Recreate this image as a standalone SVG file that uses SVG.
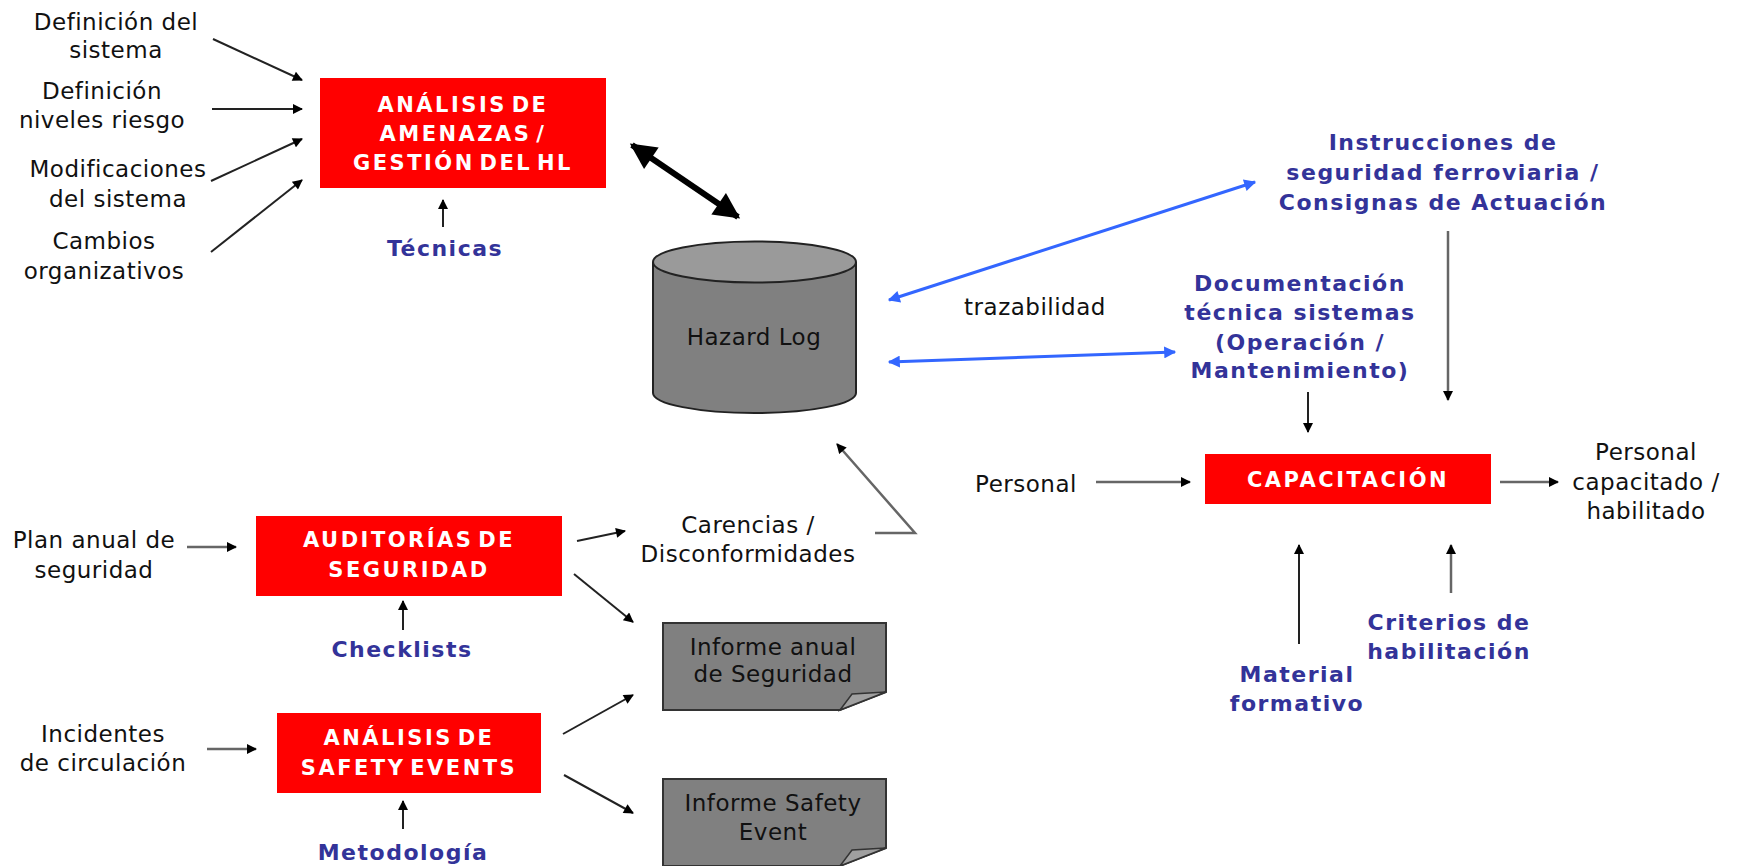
<svg xmlns="http://www.w3.org/2000/svg" width="1739" height="866" viewBox="0 0 1739 866">
  <style>
    text { font-family: "DejaVu Sans", Verdana, sans-serif; text-anchor: middle; dominant-baseline: central; }
    .t { font-size: 23px; fill: #111; letter-spacing: 0.5px; }
    .w { font-size: 21px; font-weight: bold; fill: #fff; letter-spacing: 2.5px; word-spacing: -5px; }
    .b { font-size: 22px; font-weight: bold; fill: #333399; letter-spacing: 1.5px; }
    .box { fill: #ff0000; }
    .doc { fill: #808080; stroke: #333; stroke-width: 2; }
    .flap { fill: #a0a0a0; stroke: #333; stroke-width: 1.5; }
    .ln { fill: none; stroke: #222; stroke-width: 2; marker-end: url(#ah); }
    .lg { fill: none; stroke: #666; stroke-width: 2.5; marker-end: url(#ah); }
    .blue { fill: none; stroke: #3366ff; stroke-width: 3; marker-start: url(#bh); marker-end: url(#bh); }
    .thick { fill: none; stroke: #000; stroke-width: 6; marker-start: url(#th); marker-end: url(#th); }
  </style>
  <defs>
    <marker id="ah" viewBox="0 0 10 10" refX="9" refY="5" markerWidth="12" markerHeight="10" markerUnits="userSpaceOnUse" orient="auto">
      <path d="M0,0 L10,5 L0,10 z" fill="#000"/>
    </marker>
    <marker id="bh" viewBox="0 0 10 10" refX="9" refY="5" markerWidth="16" markerHeight="12" markerUnits="userSpaceOnUse" orient="auto-start-reverse">
      <path d="M0,0 L10,5 L0,10 z" fill="#3366ff"/>
    </marker>
    <marker id="th" viewBox="0 0 10 10" refX="9" refY="5" markerWidth="28" markerHeight="26" markerUnits="userSpaceOnUse" orient="auto-start-reverse">
      <path d="M0,0 L10,5 L0,10 z" fill="#000"/>
    </marker>
  </defs>

  <!-- connectors -->
  <g id="connectors">
    <line class="ln" x1="213" y1="39" x2="302" y2="80"/>
    <line class="ln" x1="212" y1="109" x2="302" y2="109"/>
    <line class="ln" x1="211" y1="181" x2="302" y2="139"/>
    <line class="ln" x1="211" y1="252" x2="302" y2="180"/>
    <line class="ln" x1="443" y1="227" x2="443" y2="200"/>
    <line class="thick" x1="632" y1="145" x2="738" y2="217"/>
    <line class="blue" x1="889" y1="300" x2="1255" y2="182"/>
    <line class="blue" x1="889" y1="362" x2="1175" y2="352"/>
    <line class="lg" x1="1448" y1="231" x2="1448" y2="400"/>
    <line class="ln" x1="1308" y1="392" x2="1308" y2="432"/>
    <line class="lg" x1="1096" y1="482" x2="1190" y2="482"/>
    <line class="lg" x1="1500" y1="482" x2="1558" y2="482"/>
    <line class="ln" x1="1299" y1="644" x2="1299" y2="545"/>
    <line class="lg" x1="1451" y1="593" x2="1451" y2="545"/>
    <line class="lg" x1="187" y1="547" x2="236" y2="547"/>
    <line class="ln" x1="403" y1="630" x2="403" y2="601"/>
    <line class="ln" x1="577" y1="541" x2="625" y2="531"/>
    <line class="ln" x1="574" y1="574" x2="633" y2="622"/>
    <polyline class="lg" points="875,533 915,533 837,444"/>
    <line class="lg" x1="207" y1="749" x2="256" y2="749"/>
    <line class="ln" x1="403" y1="829" x2="403" y2="801"/>
    <line class="ln" x1="563" y1="734" x2="633" y2="695"/>
    <line class="ln" x1="564" y1="775" x2="633" y2="813"/>
  </g>

  <!-- input labels -->
  <g id="in-definicion-sistema">
    <text class="t" x="116" y="22">Definición del</text>
    <text class="t" x="116" y="50">sistema</text>
  </g>
  <g id="in-niveles-riesgo">
    <text class="t" x="102" y="91">Definición</text>
    <text class="t" x="102" y="120">niveles riesgo</text>
  </g>
  <g id="in-modificaciones">
    <text class="t" x="118" y="169">Modificaciones</text>
    <text class="t" x="118" y="199">del sistema</text>
  </g>
  <g id="in-cambios">
    <text class="t" x="104" y="241">Cambios</text>
    <text class="t" x="104" y="271">organizativos</text>
  </g>

  <!-- hazard analysis -->
  <g id="analisis-amenazas">
    <rect class="box" x="320" y="78" width="286" height="110"/>
    <text class="w" x="463" y="105">ANÁLISIS DE</text>
    <text class="w" x="463" y="134">AMENAZAS /</text>
    <text class="w" x="463" y="163">GESTIÓN DEL HL</text>
  </g>
  <g id="tecnicas">
    <text class="b" x="445" y="248">Técnicas</text>
  </g>

  <!-- hazard log database -->
  <g id="hazard-log">
    <path d="M653,262 L653,393 A101.5,20 0 0 0 856,393 L856,262" fill="#808080" stroke="#222" stroke-width="2"/>
    <ellipse cx="754.5" cy="262" rx="101.5" ry="20.5" fill="#9a9a9a" stroke="#222" stroke-width="2"/>
    <text class="t" x="754" y="337">Hazard Log</text>
  </g>
  <g id="trazabilidad">
    <text class="t" x="1035" y="307">trazabilidad</text>
  </g>

  <!-- documentation sources -->
  <g id="instrucciones">
    <text class="b" x="1443" y="142">Instrucciones de</text>
    <text class="b" x="1443" y="172">seguridad ferroviaria /</text>
    <text class="b" x="1443" y="202">Consignas de Actuación</text>
  </g>
  <g id="documentacion">
    <text class="b" x="1300" y="283">Documentación</text>
    <text class="b" x="1300" y="312">técnica sistemas</text>
    <text class="b" x="1300" y="342">(Operación /</text>
    <text class="b" x="1300" y="370">Mantenimiento)</text>
  </g>

  <!-- training -->
  <g id="personal-in">
    <text class="t" x="1026" y="484">Personal</text>
  </g>
  <g id="capacitacion">
    <rect class="box" x="1205" y="454" width="286" height="50"/>
    <text class="w" x="1348" y="480">CAPACITACIÓN</text>
  </g>
  <g id="personal-out">
    <text class="t" x="1646" y="452">Personal</text>
    <text class="t" x="1646" y="482">capacitado /</text>
    <text class="t" x="1646" y="511">habilitado</text>
  </g>
  <g id="material">
    <text class="b" x="1297" y="674">Material</text>
    <text class="b" x="1297" y="703">formativo</text>
  </g>
  <g id="criterios">
    <text class="b" x="1449" y="622">Criterios de</text>
    <text class="b" x="1449" y="651">habilitación</text>
  </g>

  <!-- audits -->
  <g id="plan-anual">
    <text class="t" x="94" y="540">Plan anual de</text>
    <text class="t" x="94" y="570">seguridad</text>
  </g>
  <g id="auditorias">
    <rect class="box" x="256" y="516" width="306" height="80"/>
    <text class="w" x="409" y="540">AUDITORÍAS DE</text>
    <text class="w" x="409" y="570">SEGURIDAD</text>
  </g>
  <g id="checklists">
    <text class="b" x="402" y="649">Checklists</text>
  </g>
  <g id="carencias">
    <text class="t" x="748" y="525">Carencias /</text>
    <text class="t" x="748" y="554">Disconformidades</text>
  </g>

  <!-- safety events -->
  <g id="incidentes">
    <text class="t" x="103" y="734">Incidentes</text>
    <text class="t" x="103" y="763">de circulación</text>
  </g>
  <g id="analisis-safety-events">
    <rect class="box" x="277" y="713" width="264" height="80"/>
    <text class="w" x="409" y="738">ANÁLISIS DE</text>
    <text class="w" x="409" y="768">SAFETY EVENTS</text>
  </g>
  <g id="metodologia">
    <text class="b" x="403" y="852">Metodología</text>
  </g>

  <!-- reports -->
  <g id="informe-anual">
    <polygon class="doc" points="663,623 886,623 886,692 840,710 663,710"/>
    <polygon class="flap" points="840,710 852,694 886,692"/>
    <text class="t" x="773" y="647">Informe anual</text>
    <text class="t" x="773" y="674">de Seguridad</text>
  </g>
  <g id="informe-safety-event">
    <polygon class="doc" points="663,779 886,779 886,848 840,866 663,866"/>
    <polygon class="flap" points="840,866 852,850 886,848"/>
    <text class="t" x="773" y="803">Informe Safety</text>
    <text class="t" x="773" y="832">Event</text>
  </g>
</svg>
